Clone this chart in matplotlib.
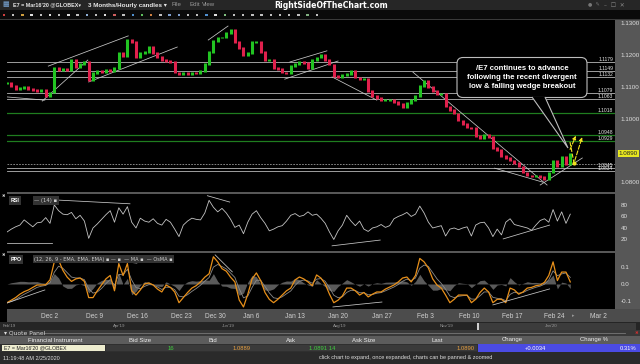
import numpy as np
import pandas as pd
import matplotlib
matplotlib.use("Agg")
import matplotlib.pyplot as plt
import matplotlib.transforms as mtransforms
from matplotlib.patches import Rectangle, FancyBboxPatch, Polygon

plt.rcParams["font.family"] = ["Liberation Sans", "DejaVu Sans"]

# hourly /E7 futures, sampled every half trading day (x unit = trading day, 0 = Dec 2)
close = [
    1.1112, 1.1102, 1.1093, 1.1096, 1.1099, 1.1093, 1.1090, 1.1087, 1.1090, 1.1071,
    1.1083, 1.1159, 1.1153, 1.1156, 1.1153, 1.1184, 1.1162, 1.1172, 1.1178, 1.1121,
    1.1143, 1.1150, 1.1146, 1.1153, 1.1150, 1.1159, 1.1206, 1.1197, 1.1247, 1.1241,
    1.1191, 1.1206, 1.1209, 1.1225, 1.1206, 1.1194, 1.1184, 1.1181, 1.1178, 1.1146,
    1.1140, 1.1146, 1.1140, 1.1146, 1.1143, 1.1150, 1.1172, 1.1209, 1.1244, 1.1254,
    1.1254, 1.1269, 1.1279, 1.1241, 1.1222, 1.1200, 1.1206, 1.1241, 1.1241, 1.1209,
    1.1184, 1.1184, 1.1159, 1.1156, 1.1146, 1.1143, 1.1165, 1.1172, 1.1178, 1.1175,
    1.1159, 1.1184, 1.1191, 1.1200, 1.1184, 1.1169, 1.1134, 1.1131, 1.1137, 1.1140,
    1.1150, 1.1128, 1.1124, 1.1124, 1.1087, 1.1071, 1.1065, 1.1058, 1.1058, 1.1058,
    1.1052, 1.1046, 1.1036, 1.1049, 1.1058, 1.1071, 1.1102, 1.1118, 1.1099, 1.1087,
    1.1077, 1.1077, 1.1039, 1.1027, 1.1017, 1.0995, 1.0983, 1.0973, 1.0970, 1.0945,
    1.0939, 1.0948, 1.0942, 1.0907, 1.0901, 1.0882, 1.0876, 1.0869, 1.0860, 1.0850,
    1.0831, 1.0822, 1.0819, 1.0822, 1.0816, 1.0809, 1.0831, 1.0869, 1.0850, 1.0879,
    1.0857, 1.0890,
]
rsi = [
    33, 38, 42, 45, 54, 48, 42, 49, 50, 58,
    48, 80, 70, 64, 63, 67, 56, 62, 52, 22,
    40, 47, 55, 63, 70, 50, 75, 64, 77, 50,
    40, 57, 52, 50, 56, 48, 45, 55, 50, 38,
    25, 45, 52, 57, 55, 54, 66, 88, 76, 68,
    74, 66, 55, 41, 45, 30, 50, 64, 70, 58,
    48, 35, 38, 42, 44, 52, 62, 65, 60, 62,
    68, 62, 64, 57, 48, 33, 20, 35, 45, 62,
    52, 44, 52, 38, 34, 40, 42, 46, 41, 44,
    56, 60, 63, 67, 60, 64, 78, 66, 50, 40,
    42, 44, 26, 38, 40, 37, 40, 42, 26, 45,
    49, 50, 40, 25, 38, 28, 50, 56, 46, 44,
    42, 40, 36, 45, 53, 56, 50, 72, 52, 68,
    48, 64,
]
ppo = [
    -0.110, -0.095, -0.080, -0.060, -0.045, -0.035, -0.020, -0.006, -0.006, -0.004,
    0.024, 0.130, 0.140, 0.080, 0.040, 0.015, 0.030, 0.035, 0.015, -0.080,
    -0.080, -0.040, -0.005, 0.030, 0.050, -0.040, 0.120, 0.050, 0.120, -0.040,
    -0.065, -0.035, 0.000, 0.006, -0.006, -0.030, -0.047, -0.006, -0.020, -0.047,
    -0.110, -0.080, -0.050, -0.024, -0.010, 0.012, 0.040, 0.060, 0.160, 0.130,
    0.090, 0.075, 0.040, 0.012, -0.094, -0.135, -0.060, 0.030, 0.065, 0.020,
    -0.050, -0.090, -0.110, -0.090, -0.065, -0.040, -0.024, 0.024, 0.041, 0.030,
    0.012, -0.010, 0.053, 0.035, 0.000, -0.060, -0.110, -0.095, -0.070, -0.024,
    -0.024, -0.040, -0.065, -0.050, -0.076, -0.060, -0.047, -0.047, -0.030, -0.018,
    -0.006, 0.012, 0.035, 0.041, 0.012, 0.050, 0.150, 0.130, 0.094, 0.030,
    -0.006, -0.024, -0.065, -0.110, -0.090, -0.065, -0.065, -0.065, -0.110, -0.090,
    -0.050, -0.024, -0.047, -0.110, -0.090, -0.090, -0.110, -0.024, -0.035, -0.060,
    -0.047, -0.024, -0.020, -0.010, -0.006, 0.010, 0.050, 0.130, 0.020, 0.070,
    0.070, 0.012,
]
start_day = -5.0
step = 0.5

date_labels = ["Dec 2", "Dec 9", "Dec 16", "Dec 23", "Dec 30", "Jan 6", "Jan 13",
               "Jan 20", "Jan 27", "Feb 3", "Feb 10", "Feb 17", "Feb 24", "Mar 2"]
date_days = [0, 5.2, 10.2, 15.3, 19.2, 23.4, 28.5, 33.5, 38.6, 43.6, 48.7, 53.8, 58.7, 63.8]

# horizontal S/R levels
levels = [1.1179, 1.1149, 1.1132, 1.1079, 1.1063, 1.1018, 1.0948, 1.0929, 1.0856, 1.0845, 1.0834]
level_kind = ["w", "w", "w", "w", "w", "g", "g", "g", "d", "w", "w"]
level_text = ["1.1179", "1.1149", "1.1132", "1.1079", "1.1063", "1.1018", "1.0948", "1.0929",
              "", "1.0845", "1.0834"]
last_price = 1.0890

# trendlines drawn on the chart ((day, value), (day, value))
price_lines = [((-5.0, 1.1068), (-0.6, 1.1058)), ((-0.9, 1.1055), (4.4, 1.1184)),
               ((-0.2, 1.1165), (9.1, 1.1260)), ((4.5, 1.1115), (14.8, 1.1225)),
               ((18.4, 1.1247), (20.7, 1.1291)), ((27.3, 1.1124), (33.5, 1.1181)),
               ((27.9, 1.1178), (32.2, 1.1213)), ((32.8, 1.1131), (38.0, 1.1058)),
               ((42.2, 1.1146), (57.8, 1.0791)), ((51.7, 1.0844), (57.3, 1.0800)),
               ((57.0, 1.0791), (61.9, 1.0876))]
rsi_lines = [((-5.0, 14), (0.2, 14)), ((0.2, 89), (9.3, 82)), ((18.3, 96), (20.9, 85)),
             ((32.8, 9), (38.4, 19)), ((52.7, 21), (58.1, 45))]
ppo_lines = [((-5.0, -0.112), (-0.6, -0.035)), ((4.1, 0.153), (10.1, 0.123)),
             ((19.2, 0.171), (21.2, 0.071)), ((32.9, -0.135), (38.6, -0.106)),
             ((51.5, -0.123), (58.1, -0.029))]
# projected paths (yellow)
proj_a = [(60.35, 1.0895), (61.28, 1.0954)]
proj_b = [(60.47, 1.0926), (60.93, 1.0860), (61.98, 1.0950)]

W, H = 640, 364
GREY = "#575757"


def rect(x0, y0, x1, y1):
    return [x0 / W, 1 - y1 / H, (x1 - x0) / W, (y1 - y0) / H]


fig = plt.figure(figsize=(6.4, 3.64), dpi=100, facecolor="black")

# background chrome in pixel coords
bg = fig.add_axes([0, 0, 1, 1])
bg.set_zorder(0)
bg.set_xlim(0, W)
bg.set_ylim(H, 0)
bg.axis("off")


def box(x0, y0, x1, y1, color):
    bg.add_patch(Rectangle((x0, y0), x1 - x0, y1 - y0, color=color, lw=0))


box(0, 0, W, 10, "#262626")
box(0, 10, W, 19, "#0a0a0a")
box(0, 19, W, 20, "#3a3a3a")
box(615, 20, W, 309, GREY)
box(7, 192, 615, 194, GREY)
box(7, 251, 615, 253, GREY)
box(7, 309, W, 322, "#4c4c4c")
box(0, 322, W, 330, "#252525")
box(478, 322.5, 636, 329.5, "#3c3c3c")
box(477, 322.5, 479, 329.5, "#cfcfcf")
box(0, 330, W, 336, "#383838")
box(0, 336, W, 344, "#5c5c5c")
box(0, 344, W, 352, "#2f2f2f")
box(2, 344.6, 105, 351.4, "#eeedcf")
box(106, 344.6, 477, 351.4, "#3a3a3a")
box(478, 344, W, 352, "#4b4be3")
box(0, 352, W, H, "#2a2a2a")

bg.text(2, 5, "\u25a6", color="#7aa7d8", fontsize=5, va="center")
bg.text(13, 5, "E7 = Mar16'20 @GLOBEX\u25be", color="#e8e8e8", fontsize=3.9,
        fontweight="bold", va="center")
bg.text(88, 5, "3 Months/Hourly candles \u25be", color="#e8e8e8", fontsize=4.5,
        fontweight="bold", va="center")
for xx, s in [(172, "File"), (189, "Edit"), (202, "View")]:
    bg.text(xx, 5, s, color="#9a9a9a", fontsize=4.4, va="center")
bg.text(331, 5, "RightSideOfTheChart.com", color="white", fontsize=5.6,
        fontweight="bold", ha="center", va="center", family="DejaVu Sans")
bg.text(625, 5, "\u2013  \u2610  \u2715", color="#8a8a8a", fontsize=4.2, ha="right", va="center",
        family="DejaVu Sans")
bg.text(600, 5, "\u25cf  \u270e", color="#777777", fontsize=3.6, ha="right", va="center",
        family="DejaVu Sans")

# toolbar icons
icon_cols = ["#d04040", "#c0c0c0", "#d0a040", "#e0e0e0", "#c0c0c0", "#e0e0e0", "#c0c0c0",
             "#e0e0e0", "#c0c0c0", "#8fb0d8", "#c0c0c0", "#e0e0e0", "#d06060", "#c0c0c0",
             "#5090d0", "#60c060", "#d08040", "#c0c0c0", "#80a0d0", "#80a0d0", "#c0c0c0",
             "#c0c0c0", "#5090d0", "#e0e0e0", "#80c080", "#c0c0c0", "#c0c0c0", "#c0c0c0",
             "#c0c0c0", "#c0c0c0", "#c0c0c0", "#c0c0c0", "#c0c0c0", "#80b080", "#c0c0c0"]
bg.scatter(4 + 9.2 * np.arange(len(icon_cols)), np.full(len(icon_cols), 15), s=3,
           marker="s", c=icon_cols, linewidths=0)

bg.text(3, 196, "\u2716", color="#dddddd", fontsize=3, ha="center", va="center", family="DejaVu Sans")
bg.text(3, 255, "\u2716", color="#dddddd", fontsize=3, ha="center", va="center", family="DejaVu Sans")

nav = [(3, "Feb'19"), (113, "Apr'19"), (222, "Jun'19"), (333, "Aug'19"), (440, "Nov'19"), (545, "Jan'20")]
for xx, s in nav:
    bg.text(xx, 326, s, color="#9a9a9a", fontsize=3.2, va="center")
bg.text(4, 333, "\u25be Quote Panel", color="#dddddd", fontsize=4.3, va="center", family="DejaVu Sans")
bg.plot([44, 625], [333, 333], color="#777777", lw=0.6)
bg.text(636, 333, "\u2716", color="#d03030", fontsize=3.2, ha="center", va="center", family="DejaVu Sans")

heads = [(55, "Financial Instrument"), (140, "Bid Size"), (213, "Bid"), (291, "Ask"),
         (364, "Ask Size"), (437, "Last"), (512, "Change"), (594, "Change %")]
for xx, s in heads:
    bg.text(xx, 340, s, color="#eeeeee", fontsize=4.3, ha="center", va="center")
bg.text(4, 348, "E7 = Mar16'20 @GLOBEX", color="#222222", fontsize=3.8, va="center")
cells = [(171, "16", "#3fcf3f", "center"), (242, "1.0889", "#e8a040", "center"),
         (322, "1.0891 14", "#3fcf3f", "center"), (475, "1.0890", "#e8a040", "right"),
         (535, "+0.0034", "white", "center"), (637, "0.31%", "white", "right")]
for xx, s, col, ha in cells:
    bg.text(xx, 348, s, color=col, fontsize=4.2, ha=ha, va="center")
bg.text(3, 358, "11:19:48 AM 2/25/2020", color="#dddddd", fontsize=4.0, va="center")
bg.text(406, 358, "click chart to expand, once expanded, charts can be panned & zoomed",
        color="#dddddd", fontsize=4.0, ha="center", va="center")
bg.text(573, 315.5, "\u25b8", color="#9a9a9a", fontsize=3.5, ha="center", va="center",
        family="DejaVu Sans")

# chart panels
ax_p = fig.add_axes(rect(7, 20, 615, 192))
ax_r = fig.add_axes(rect(7, 194, 615, 251))
ax_o = fig.add_axes(rect(7, 253, 615, 309))
for a in (ax_p, ax_r, ax_o):
    a.set_zorder(2)
    a.set_facecolor("black")
    for sp in a.spines.values():
        sp.set_visible(False)
    a.set_xlim(-5, 65.7)
    a.yaxis.tick_right()
    a.tick_params(axis="y", length=0, pad=4, labelsize=4.5, labelcolor="#dedede")
    a.tick_params(axis="x", length=0)
    a.set_xticks([])

x = start_day + step * np.arange(len(close))
c = np.array(close)
o = np.r_[c[0], c[:-1]]

# price panel (1.0900 tick sits under the last-price tag)
ax_p.set_ylim(1.0769, 1.1310)
ax_p.set_yticks([1.08, 1.10, 1.11, 1.12, 1.13])
ax_p.set_yticklabels(["1.0800", "1.1000", "1.1100", "1.1200", "1.1300"])
tr = mtransforms.blended_transform_factory(ax_p.transAxes, ax_p.transData)
for lv, kind, lab in zip(levels, level_kind, level_text):
    if kind == "g":
        ax_p.axhline(lv, color="#1f7d1f", lw=0.9)
    elif kind == "d":
        ax_p.axhline(lv, color="#9a9a9a", lw=0.6, ls=(0, (2, 1.5)))
    else:
        ax_p.axhline(lv, color="#b8b8b8", lw=0.6)
    if lab:
        ax_p.text(0.997, lv, lab, transform=tr, color="#e8e8e8", fontsize=3.6,
                  ha="right", va="bottom")
for (x0, y0), (x1, y1) in price_lines:
    ax_p.plot([x0, x1], [y0, y1], color="#c8c8c8", lw=0.55)
cols = np.where(c >= o, "#22c422", "#e0204c")
ax_p.vlines(x, np.minimum(o, c) - 0.0002, np.maximum(o, c) + 0.0002, colors=cols, lw=2.2)
ax_p.annotate("", xy=proj_a[1], xytext=proj_a[0],
              arrowprops=dict(arrowstyle="-|>", color="#f0e020", lw=0.8, ls="--",
                              mutation_scale=5))
bx, by = zip(*proj_b)
ax_p.plot(bx[:2], by[:2], color="#f0e020", lw=0.8, ls="--")
ax_p.annotate("", xy=proj_b[2], xytext=proj_b[1],
              arrowprops=dict(arrowstyle="-|>", color="#f0e020", lw=0.8, ls="--",
                              mutation_scale=5))
ax_p.plot([bx[1]], [by[1]], "o", color="#f0e020", ms=2)
ax_p.text(1.006, last_price, "1.0890", transform=tr, color="#222222", fontsize=4.5,
          va="center", ha="left", clip_on=False,
          bbox=dict(boxstyle="square,pad=0.15", fc="#e8e820", ec="none"))

# RSI panel
ax_r.set_ylim(0, 99)
ax_r.set_yticks([20, 40, 60, 80])
ax_r.plot(x, rsi, color="#c4c4c4", lw=0.6)
for (x0, y0), (x1, y1) in rsi_lines:
    ax_r.plot([x0, x1], [y0, y1], color="#c8c8c8", lw=0.55)
ax_r.text(0.006, 0.93, "RSI", transform=ax_r.transAxes, color="white", fontsize=3.8,
          fontweight="bold", va="top", bbox=dict(boxstyle="square,pad=0.3", fc="#333333", ec="none"))
ax_r.text(0.045, 0.93, "\u2014 (14) \u25aa", transform=ax_r.transAxes, color="#cfcfcf",
          fontsize=3.8, va="top", family="DejaVu Sans",
          bbox=dict(boxstyle="square,pad=0.3", fc="#333333", ec="none"))

# PPO panel: MA is the indicator's signal line, OsMA the gap to it
p = pd.Series(ppo)
ma = p.ewm(span=3, adjust=False).mean()
hist = p - ma
ax_o.set_ylim(-0.147, 0.182)
ax_o.set_yticks([-0.1, 0.0, 0.1])
ax_o.set_yticklabels(["-0.1", "0.0", "0.1"])
ax_o.fill_between(x, 0, hist, color="#5a5a5a", lw=0)
ax_o.plot(x, ma, color="#8a8a8a", lw=0.6)
ax_o.plot(x, ppo, color="#e8901a", lw=0.9)
for (x0, y0), (x1, y1) in ppo_lines:
    ax_o.plot([x0, x1], [y0, y1], color="#c8c8c8", lw=0.55)
ax_o.text(0.006, 0.93, "PPO", transform=ax_o.transAxes, color="white", fontsize=3.8,
          fontweight="bold", va="top", bbox=dict(boxstyle="square,pad=0.3", fc="#333333", ec="none"))
ax_o.text(0.045, 0.93, "(12, 26, 9 - EMA, EMA, EMA) \u25aa \u2014 \u25aa  \u2014 MA \u25aa  \u2014 OsMA \u25aa",
          transform=ax_o.transAxes, color="#cfcfcf", fontsize=3.6, va="top", family="DejaVu Sans",
          bbox=dict(boxstyle="square,pad=0.3", fc="#333333", ec="none"))
ax_o.set_xticks(date_days)
ax_o.set_xticklabels(date_labels)
ax_o.tick_params(axis="x", length=0, pad=2.6, labelsize=4.8, labelcolor="#cfcfcf")

# callout on top
ov = fig.add_axes([0, 0, 1, 1])
ov.set_zorder(5)
ov.set_xlim(0, W)
ov.set_ylim(H, 0)
ov.axis("off")
ov.add_patch(FancyBboxPatch((457, 57.5), 130, 40, boxstyle="round,pad=0,rounding_size=6",
                            fc="black", ec="#bdbdbd", lw=0.8))
ov.add_patch(Polygon([(532, 97), (568, 148), (545, 97)], closed=False, fc="black",
                     ec="#bdbdbd", lw=0.8))
ov.text(522, 77.5, "/E7 continues to advance\nfollowing the recent divergent\nlow & falling wedge breakout",
        color="white", fontsize=5.6, fontweight="bold", ha="center", va="center", linespacing=1.3)

fig.savefig("out.png", dpi=100, facecolor="black")
